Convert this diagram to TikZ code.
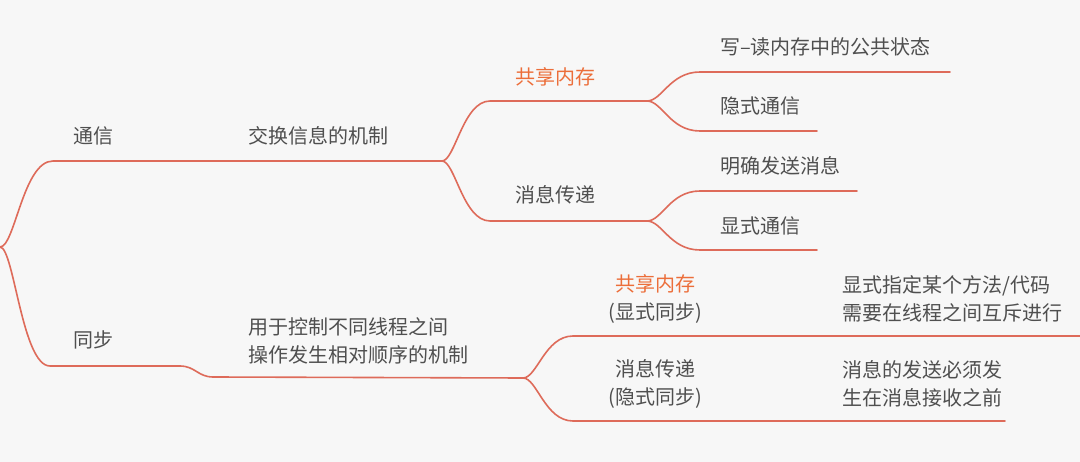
\documentclass[tikz,border=0pt]{standalone}
\usepackage{fontspec}
\setmainfont{Noto Sans CJK SC}
\definecolor{bgc}{HTML}{F7F7F7}
\definecolor{linec}{HTML}{DE6B5A}
\definecolor{orangec}{HTML}{EC6E3A}
\definecolor{txtc}{HTML}{4F4F4F}
\begin{document}
\begin{tikzpicture}[x=1pt,y=-1pt,
  edge/.style={draw=linec, line width=1.6pt, line cap=round, line join=round},
  lbl/.style={anchor=west, inner sep=0pt, text=txtc, align=left, font=\fontsize{20}{28}\selectfont},
  clbl/.style={anchor=center, inner sep=0pt, text=txtc, align=center, font=\fontsize{20}{28}\selectfont},
  hl/.style={text=orangec}]
\fill[bgc] (0,0) rectangle (1080,462);
\useasboundingbox (0,0) rectangle (1080,462);

% coordinates
\coordinate (R) at (0,247);
\coordinate (a1) at (53,161);
\coordinate (K1) at (442,161);
\coordinate (b1) at (490,101);
\coordinate (K3) at (647,101);
\coordinate (b2) at (490,221);
\coordinate (K4) at (647,221);
\coordinate (c1) at (700,72);  \coordinate (e1) at (950,72);
\coordinate (c2) at (700,131); \coordinate (e2) at (817,131);
\coordinate (c3) at (700,191); \coordinate (e3) at (857,191);
\coordinate (c4) at (700,250); \coordinate (e4) at (817,250);
\coordinate (s1) at (50,366);
\coordinate (s2) at (180,366);
\coordinate (s3) at (213,377);
\coordinate (K2) at (523,378);
\coordinate (d1) at (573,336); \coordinate (f1) at (1080,336);
\coordinate (d2) at (573,421); \coordinate (f2) at (1005,421);

% connectors
\draw[edge] (R) .. controls (15,247) and (23,161) .. (a1) -- (K1);
\draw[edge] (K1) .. controls (455,161) and (463,101) .. (b1) -- (K3);
\draw[edge] (K1) .. controls (455,161) and (463,221) .. (b2) -- (K4);
\draw[edge] (K3) .. controls (662,101) and (670,72) .. (c1) -- (e1);
\draw[edge] (K3) .. controls (662,101) and (670,131) .. (c2) -- (e2);
\draw[edge] (K4) .. controls (662,221) and (670,191) .. (c3) -- (e3);
\draw[edge] (K4) .. controls (662,221) and (670,250) .. (c4) -- (e4);
\draw[edge] (R) .. controls (14,247) and (22,366) .. (s1) -- (s2)
  .. controls (195,366) and (198,377) .. (s3) -- (K2);
\draw[edge] (K2) .. controls (537,378) and (545,336) .. (d1) -- (f1);
\draw[edge] (K2) .. controls (537,378) and (545,421) .. (d2) -- (f2);

% labels
\node[lbl] (tx) at (73,136) {通信};
\node[lbl] (tx2) at (248,136) {交换信息的机制};
\node[lbl,hl] (gx) at (515,77) {共享内存};
\node[lbl] (xx) at (515,195) {消息传递};
\node[lbl] (w1) at (720,47) {写–读内存中的公共状态};
\node[lbl] (w2) at (720,106) {隐式通信};
\node[lbl] (w3) at (720,166) {明确发送消息};
\node[lbl] (w4) at (720,226) {显式通信};
\node[lbl] (tb) at (73,340) {同步};
\node[lbl] (tb2) at (248,341) {用于控制不同线程之间\\操作发生相对顺序的机制};
\node[clbl] (sg) at (655,299) {\textcolor{orangec}{共享内存}\\(显式同步)};
\node[clbl] (sx) at (655,384) {消息传递\\(隐式同步)};
\node[lbl] (r1) at (842,299) {显式指定某个方法/代码\\需要在线程之间互斥进行};
\node[lbl] (r2) at (842,384) {消息的发送必须发\\生在消息接收之前};
\end{tikzpicture}
\end{document}
